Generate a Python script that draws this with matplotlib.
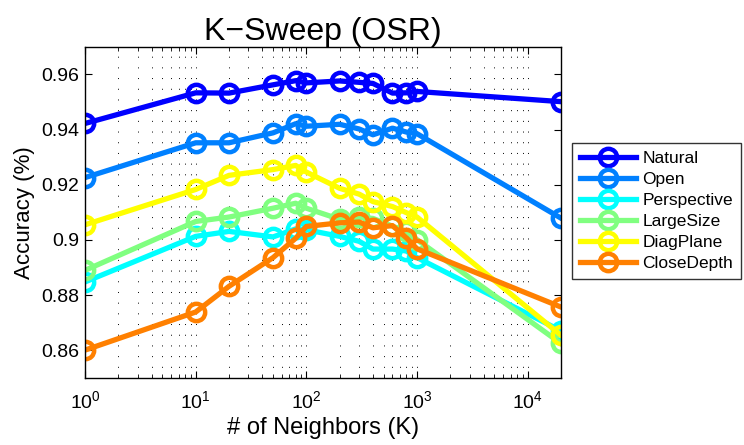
import matplotlib
matplotlib.use("Agg")
import matplotlib.pyplot as plt
from matplotlib.ticker import LogLocator, FixedLocator, FuncFormatter, NullFormatter

plt.rcParams["font.family"] = ["Liberation Sans", "DejaVu Sans"]
plt.rcParams["mathtext.fontset"] = "custom"
plt.rcParams["mathtext.rm"] = "Liberation Sans"
plt.rcParams["mathtext.it"] = "Liberation Sans"

# neighbours K swept
k_values = [1, 10, 20, 50, 80, 100, 200, 300, 400, 600, 800, 1000, 20000]

natural = [0.9422, 0.9533, 0.9532, 0.9562, 0.9577, 0.9569, 0.9576, 0.9571, 0.9567,
           0.9532, 0.9533, 0.9538, 0.9501]
open_ = [0.9226, 0.9352, 0.9352, 0.9388, 0.9421, 0.9412, 0.9419, 0.9402, 0.9381,
         0.9405, 0.9391, 0.9385, 0.9079]
perspective = [0.8848, 0.9013, 0.9031, 0.9011, 0.9040, 0.9037, 0.9013, 0.8995, 0.8967,
               0.8967, 0.8960, 0.8936, 0.8671]
large_size = [0.8890, 0.9067, 0.9083, 0.9115, 0.9133, 0.9115, 0.9075, 0.9082, 0.9078,
              0.9050, 0.9031, 0.9001, 0.8625]
diag_plane = [0.9055, 0.9183, 0.9234, 0.9255, 0.9270, 0.9246, 0.9187, 0.9166, 0.9139,
              0.9121, 0.9099, 0.9083, 0.8655]
close_depth = [0.8601, 0.8739, 0.8832, 0.8936, 0.9006, 0.9049, 0.9062, 0.9065, 0.9044,
               0.9052, 0.9008, 0.8968, 0.8757]

series = [
    ("Natural", natural, (0.0, 0.0, 1.0)),
    ("Open", open_, (0.0, 0.5, 1.0)),
    ("Perspective", perspective, (0.0, 1.0, 1.0)),
    ("LargeSize", large_size, (0.5, 1.0, 0.5)),
    ("DiagPlane", diag_plane, (1.0, 1.0, 0.0)),
    ("CloseDepth", close_depth, (1.0, 0.5, 0.0)),
]

y_ticks = [0.86, 0.88, 0.90, 0.92, 0.94, 0.96]

fig = plt.figure(figsize=(7.44, 4.45), dpi=100)
ax = fig.add_axes([0.1143, 0.1506, 0.6397, 0.7444])

for name, vals, color in series:
    ax.plot(k_values, vals, color=color, linewidth=3.8, marker="o", markersize=12.5,
            markerfacecolor="none", markeredgewidth=3.2, markeredgecolor=color, label=name)

ax.set_xscale("log")
ax.set_xlim(1, 2e4)
ax.set_ylim(0.85, 0.97)
ax.yaxis.set_major_locator(FixedLocator(y_ticks))
ax.yaxis.set_major_formatter(FuncFormatter(lambda v, p: f"{v:g}"))
ax.xaxis.set_major_locator(LogLocator(base=10, numticks=10))
ax.xaxis.set_minor_locator(LogLocator(base=10, subs=range(2, 10), numticks=20))
ax.xaxis.set_minor_formatter(NullFormatter())

ax.grid(True, which="both", axis="x", linestyle=(0, (1, 10)), color="black", linewidth=0.7)
ax.tick_params(which="both", direction="in", top=True, right=True, labelsize=14)
ax.tick_params(axis="y", pad=4)
ax.tick_params(axis="x", pad=9)
ax.tick_params(which="major", length=5, width=0.8)
ax.tick_params(which="minor", length=3, width=0.6)
for sp in ax.spines.values():
    sp.set_linewidth(1.0)

ax.set_title("K\u2212Sweep (OSR)", fontsize=23, pad=5)
ax.set_xlabel("# of Neighbors (K)", fontsize=17, labelpad=3)
ax.set_ylabel("Accuracy (%)", fontsize=16, labelpad=5)

leg = fig.legend(loc="upper left", bbox_to_anchor=(0.769, 0.679), fontsize=12.5,
                 frameon=True, fancybox=False, edgecolor="black", handlelength=3.2,
                 labelspacing=0.34, borderpad=0.45, handletextpad=0.4, borderaxespad=0)
leg.get_frame().set_linewidth(1.0)

fig.savefig("out.png", dpi=100)
